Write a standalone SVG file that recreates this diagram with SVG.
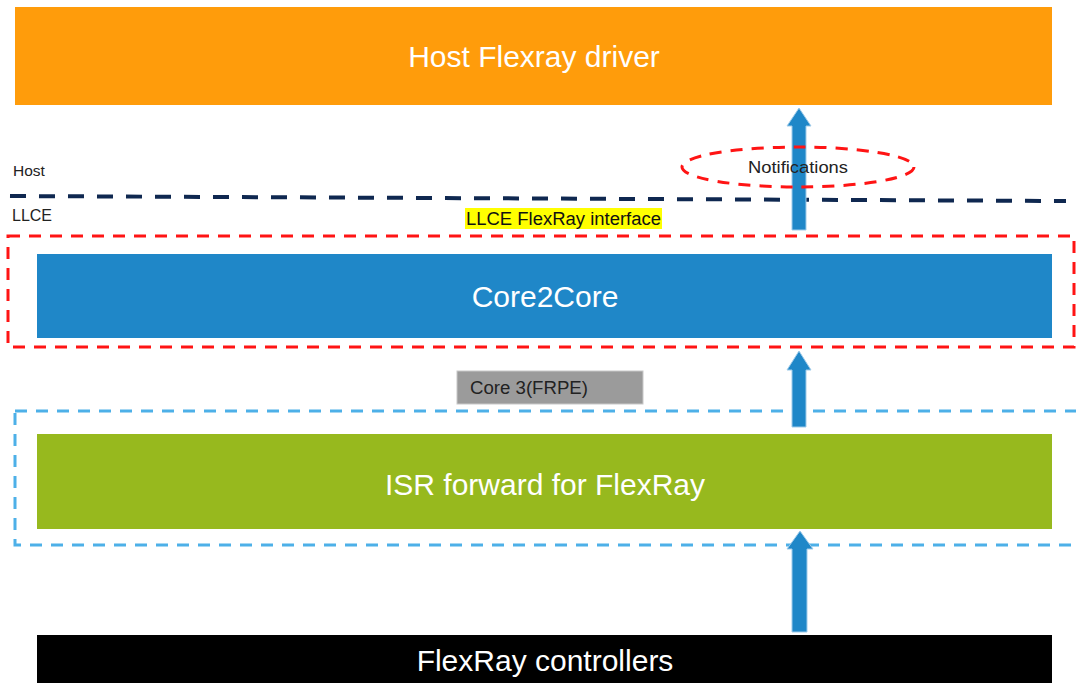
<svg xmlns="http://www.w3.org/2000/svg" width="1076" height="683" viewBox="0 0 1076 683">
<style>
.lbl{font-family:"Liberation Sans",Arial,sans-serif;}
.big{font-size:30px;fill:#fff;text-anchor:middle;}
.small{font-size:17px;fill:#222;}
.arrow{fill:#1F87C8;stroke:#9FCBEA;stroke-width:1;}
</style>
<rect width="1076" height="683" fill="#fff"/>
<g id="host-driver">
<rect x="15" y="7" width="1037" height="98" fill="#FF9C0B"/>
<text class="lbl big" x="534" y="67">Host Flexray driver</text>
</g>
<g id="boundary">
<line x1="10" y1="196" x2="1066" y2="201" stroke="#0F2850" stroke-width="4" stroke-dasharray="16,13"/>
<text class="lbl small" x="13" y="176" style="font-size:15.5px">Host</text>
<text class="lbl small" x="12" y="221" style="font-size:16px">LLCE</text>
</g>
<g id="llce-interface">
<rect x="8" y="236" width="1066" height="111" fill="none" stroke="#FF1414" stroke-width="3" stroke-dasharray="12,9"/>
<rect x="465" y="208" width="197" height="21" fill="#FFFF00"/>
<text class="lbl small" x="466" y="225" style="fill:#111;font-size:18px" textLength="195" lengthAdjust="spacingAndGlyphs">LLCE FlexRay interface</text>
</g>
<g id="core3">
<rect x="15" y="411" width="1070" height="134" fill="none" stroke="#4DB0E8" stroke-width="3" stroke-dasharray="12,9"/>
<rect x="457" y="371" width="186" height="33" fill="#9B9B9B" stroke="#C8C8C8" stroke-width="1"/>
<text class="lbl small" x="470" y="394" style="fill:#222;font-size:18px" textLength="118" lengthAdjust="spacingAndGlyphs">Core 3(FRPE)</text>
</g>
<g id="core2core">
<rect x="37" y="254" width="1015" height="84" fill="#1F87C8"/>
<text class="lbl big" x="545" y="307">Core2Core</text>
</g>
<g id="isr">
<rect x="37" y="434" width="1015" height="95" fill="#97B91E"/>
<text class="lbl big" x="545" y="495">ISR forward for FlexRay</text>
</g>
<g id="controllers">
<rect x="37" y="635" width="1015" height="48" fill="#000"/>
<text class="lbl big" x="545" y="671">FlexRay controllers</text>
</g>
<g id="connectors">
<polygon class="arrow" points="792,230 806,230 806,126 811,126 799,108 787,126 792,126"/>
<polygon class="arrow" points="792,427 806,427 806,370 811,370 799,351 787,370 792,370"/>
<polygon class="arrow" points="792,632 807,632 807,549 813,549 800,531 787,549 792,549"/>
</g>
<g id="notifications">
<ellipse cx="798" cy="167" rx="116" ry="20" fill="none" stroke="#FF1414" stroke-width="3" stroke-dasharray="12,9"/>
<text class="lbl small" x="798" y="173" style="text-anchor:middle;font-size:17px;fill:#222" textLength="100" lengthAdjust="spacingAndGlyphs">Notifications</text>
</g>
</svg>
